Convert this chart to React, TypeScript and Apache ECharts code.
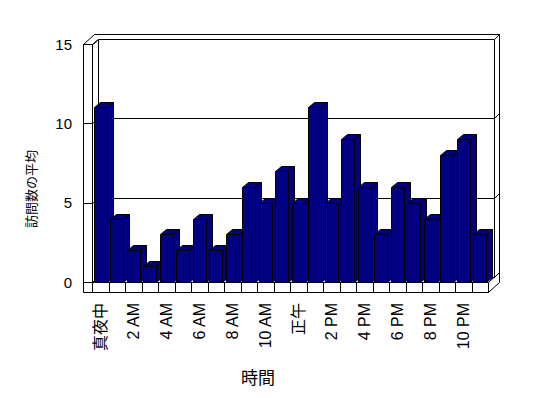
import React, { useEffect, useRef } from 'react';
import * as echarts from 'echarts';

const hours = [
  '真夜中', '1 AM', '2 AM', '3 AM', '4 AM', '5 AM', '6 AM', '7 AM', '8 AM', '9 AM', '10 AM', '11 AM',
  '正午', '1 PM', '2 PM', '3 PM', '4 PM', '5 PM', '6 PM', '7 PM', '8 PM', '9 PM', '10 PM', '11 PM',
];
const visits = [11, 4, 2, 1, 3, 2, 4, 2, 3, 6, 5, 7, 5, 11, 5, 9, 6, 3, 6, 5, 4, 8, 9, 3];
const yTicks = [0, 5, 10, 15];
const xTitle = '時間';
const yTitle = '訪問数の平均';

const BAR_COLOR = '#000080';
const D1 = [6, -5];
const D2 = [11, -10];
const WALL_W = 9;
const FLOOR_H = 10;

const p = (v: number) => Math.round(v) + 0.5;
const line = (x1: number, y1: number, x2: number, y2: number) => ({
  type: 'line',
  shape: { x1: p(x1), y1: p(y1), x2: p(x2), y2: p(y2) },
  style: { stroke: '#000', lineWidth: 1 },
});
const poly = (pts: number[][], fill: string) => ({
  type: 'polygon',
  shape: { points: pts.map(([x, y]) => [p(x), p(y)]) },
  style: { fill, stroke: '#000', lineWidth: 1 },
});

export default function App() {
  const ref = useRef<HTMLDivElement>(null);
  useEffect(() => {
    if (!ref.current) return;
    const chart = echarts.init(ref.current, null, { renderer: 'svg' });

    const frameRender = (params: any, api: any) => {
      const cs = params.coordSys;
      const L = cs.x, T = cs.y, R = cs.x + cs.width, B = cs.y + cs.height;
      const cw = cs.width / hours.length;
      const ch: any[] = [];
      // floor
      ch.push(poly([[L, B], [R, B], [R + D2[0], B + D2[1]], [L + D2[0], B + D2[1]]], '#fff'));
      ch.push(poly([[L, B], [R, B], [R, B + FLOOR_H], [L, B + FLOOR_H]], '#fff'));
      ch.push(poly([[R, B], [R + D2[0], B + D2[1]], [R + D2[0], B + FLOOR_H + D2[1]], [R, B + FLOOR_H]], '#fff'));
      for (let i = 1; i < hours.length; i++) {
        ch.push(line(L + i * cw, B, L + i * cw, B + FLOOR_H));
      }
      // back wall
      ch.push(poly([[L + D1[0], T + D1[1]], [R + D1[0], T + D1[1]], [R + D1[0], B + D1[1]], [L + D1[0], B + D1[1]]], '#fff'));
      ch.push(poly([[R + D1[0], T + D1[1]], [R + D2[0], T + D2[1]], [R + D2[0], B + D2[1]], [R + D1[0], B + D1[1]]], '#fff'));
      // left wall inner face
      ch.push(poly([[L, T], [L + D1[0], T + D1[1]], [L + D1[0], B + D1[1]], [L, B]], '#fff'));
      // top of walls
      ch.push(poly([
        [L - WALL_W, T], [L - WALL_W + D2[0], T + D2[1]], [R + D2[0], T + D2[1]],
        [R + D1[0], T + D1[1]], [L + D1[0], T + D1[1]], [L, T],
      ], '#fff'));
      // left wall front face
      ch.push(poly([[L - WALL_W, T], [L, T], [L, B + FLOOR_H], [L - WALL_W, B + FLOOR_H]], '#fff'));
      // gridlines and ticks
      yTicks.forEach((v) => {
        const y = api.coord([0, v])[1];
        ch.push(line(L + D1[0], y + D1[1], R + D1[0], y + D1[1]));
        ch.push(line(R + D1[0], y + D1[1], R + D2[0], y + D2[1]));
        ch.push(line(L, y, L + D1[0], y + D1[1]));
        ch.push(line(L - WALL_W, y, L, y));
      });
      return { type: 'group', children: ch };
    };

    const barRender = (params: any, api: any) => {
      const idx = api.value(0);
      const v = api.value(1);
      const top = api.coord([idx, v]);
      const bot = api.coord([idx, 0]);
      const bw = api.size([1, 0])[0] * 0.8;
      const xl = top[0] - bw / 2;
      const xr = top[0] + bw / 2;
      const yt = top[1];
      const yb = bot[1];
      return {
        type: 'group',
        children: [
          poly([[xl, yt], [xr, yt], [xr, yb], [xl, yb]], BAR_COLOR),
          poly([[xl, yt], [xr, yt], [xr + D1[0], yt + D1[1]], [xl + D1[0], yt + D1[1]]], BAR_COLOR),
          poly([[xr, yt], [xr + D1[0], yt + D1[1]], [xr + D1[0], yb + D1[1]], [xr, yb]], BAR_COLOR),
        ],
      };
    };

    chart.setOption({
      animation: false,
      backgroundColor: '#fff',
      grid: { left: 92, right: 60, top: 44, bottom: 116 },
      xAxis: {
        type: 'category',
        data: hours,
        axisLine: { show: false },
        axisTick: { show: false },
        axisLabel: {
          interval: 1,
          rotate: 90,
          margin: 21,
          color: '#000',
          fontSize: 16,
          fontFamily: "'Liberation Sans', 'Noto Sans CJK JP', sans-serif",
        },
      },
      yAxis: {
        type: 'value',
        min: 0,
        max: 15,
        interval: 5,
        axisLine: { show: false },
        axisTick: { show: false },
        splitLine: { show: false },
        axisLabel: {
          margin: 20,
          color: '#000',
          fontSize: 15,
          fontFamily: "'Liberation Sans', sans-serif",
        },
      },
      graphic: [
        {
          type: 'text',
          x: 258,
          y: 376,
          style: {
            text: xTitle,
            align: 'center',
            verticalAlign: 'middle',
            fill: '#000',
            font: "17px 'Noto Sans CJK JP', sans-serif",
          },
        },
        {
          type: 'text',
          x: 30,
          y: 189,
          rotation: Math.PI / 2,
          style: {
            text: yTitle,
            align: 'center',
            verticalAlign: 'middle',
            fill: '#000',
            font: "13px 'Noto Sans CJK JP', sans-serif",
          },
        },
      ],
      series: [
        {
          type: 'custom',
          z: 1,
          clip: false,
          silent: true,
          renderItem: frameRender,
          data: [[0, 0]],
        },
        {
          type: 'custom',
          z: 2,
          clip: false,
          renderItem: barRender,
          data: visits.map((v, i) => [i, v]),
        },
      ],
    });
    return () => chart.dispose();
  }, []);
  return (
    <div
      ref={ref}
      style={{ position: 'fixed', left: 0, top: 0, width: 548, height: 398 }}
    />
  );
}
